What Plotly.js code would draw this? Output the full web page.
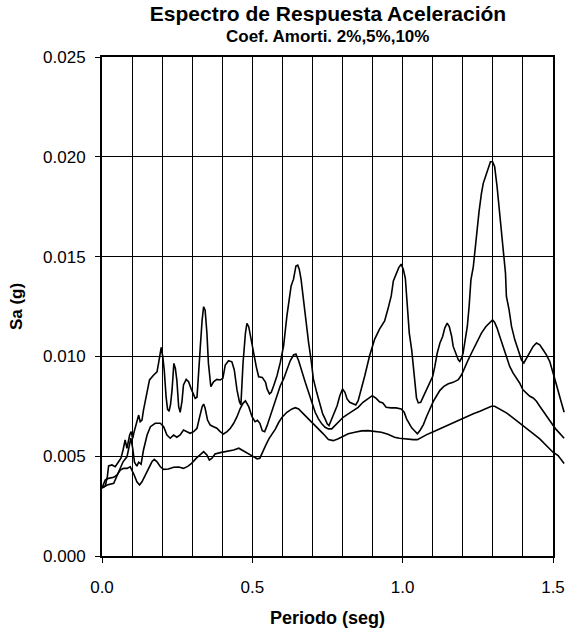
<!DOCTYPE html>
<html>
<head>
<meta charset="utf-8">
<script src="https://cdn.plot.ly/plotly-3.0.1.min.js"></script>
<style>html,body{margin:0;padding:0;background:#fff;}#chart{width:567px;height:635px;}</style>
</head>
<body>
<div id="chart"></div>
<script>
// ---- Data ----
const chartTitle = 'Espectro de Respuesta Aceleración';
const chartSubtitle = 'Coef. Amorti. 2%,5%,10%';
const xTitle = 'Periodo (seg)';
const yTitle = 'Sa (g)';
const seriesNames = ['Amort. 2%', 'Amort. 5%', 'Amort. 10%'];

const periodo2 = [0,0.011,0.018,0.022,0.033,0.044,0.055,0.063,0.07,0.077,0.083,0.092,0.097,0.102,0.107,0.114,0.122,0.127,0.133,0.138,0.15,0.158,0.172,0.183,0.188,0.197,0.202,0.207,0.213,0.218,0.223,0.228,0.233,0.239,0.244,0.249,0.255,0.26,0.266,0.271,0.28,0.288,0.296,0.305,0.31,0.316,0.321,0.327,0.333,0.338,0.343,0.349,0.354,0.362,0.371,0.382,0.393,0.402,0.41,0.421,0.432,0.44,0.449,0.457,0.462,0.469,0.477,0.482,0.488,0.496,0.504,0.513,0.521,0.533,0.544,0.549,0.557,0.563,0.571,0.582,0.593,0.604,0.615,0.629,0.637,0.645,0.651,0.656,0.662,0.668,0.676,0.681,0.687,0.695,0.703,0.714,0.725,0.734,0.742,0.749,0.755,0.764,0.775,0.782,0.791,0.8,0.808,0.815,0.824,0.835,0.844,0.852,0.863,0.874,0.89,0.907,0.923,0.94,0.951,0.962,0.969,0.978,0.987,0.995,1.002,1.009,1.015,1.022,1.03,1.035,1.041,1.046,1.052,1.06,1.069,1.08,1.091,1.1,1.107,1.115,1.124,1.133,1.14,1.148,1.155,1.163,1.168,1.177,1.185,1.19,1.196,1.201,1.207,1.215,1.221,1.227,1.235,1.24,1.248,1.254,1.262,1.268,1.277,1.285,1.292,1.299,1.306,1.314,1.323,1.334,1.342,1.345,1.354,1.362,1.373,1.384,1.395,1.403,1.412,1.423,1.434,1.445,1.456,1.467,1.478,1.489,1.5,1.511,1.522,1.537];
const sa2 = [0.00341,0.00351,0.0040,0.00451,0.00456,0.00447,0.00472,0.0049,0.00531,0.00581,0.0054,0.00606,0.00623,0.0059,0.00623,0.00665,0.00706,0.00673,0.00681,0.00731,0.00815,0.00882,0.00907,0.00923,0.00965,0.01045,0.0100,0.00932,0.0080,0.00735,0.00725,0.0076,0.00832,0.00965,0.0094,0.0088,0.00748,0.0072,0.00775,0.00857,0.00885,0.00873,0.0084,0.00807,0.0079,0.00795,0.00932,0.01049,0.01182,0.01249,0.01232,0.01116,0.00965,0.00848,0.00873,0.00885,0.00882,0.0089,0.00957,0.00978,0.00973,0.00932,0.00832,0.00773,0.00757,0.00965,0.01116,0.01166,0.01149,0.01082,0.01024,0.00949,0.00898,0.00895,0.0087,0.00837,0.00812,0.0082,0.00853,0.00903,0.0097,0.01053,0.01203,0.01353,0.01387,0.01453,0.01457,0.01437,0.01387,0.01303,0.01203,0.01153,0.0107,0.00987,0.00887,0.0082,0.00753,0.00712,0.00687,0.00662,0.00653,0.00687,0.0072,0.00753,0.00803,0.00837,0.0082,0.00787,0.0077,0.00762,0.00757,0.00778,0.00837,0.00903,0.01003,0.01087,0.01137,0.01178,0.01237,0.01303,0.01378,0.01412,0.01445,0.01462,0.01437,0.0139,0.0125,0.01117,0.01033,0.0095,0.0085,0.00791,0.00767,0.0077,0.008,0.00833,0.00867,0.009,0.0095,0.01017,0.01067,0.011,0.01142,0.01167,0.0115,0.011,0.0105,0.01017,0.00983,0.00975,0.00992,0.01017,0.01083,0.0115,0.0125,0.01383,0.0145,0.01533,0.0165,0.01725,0.01817,0.01867,0.01908,0.0195,0.01975,0.01975,0.0195,0.0185,0.01717,0.0155,0.01417,0.013,0.01233,0.0115,0.01083,0.01033,0.00983,0.00967,0.00992,0.01025,0.0105,0.01067,0.01058,0.01033,0.01008,0.00975,0.0091,0.0086,0.008,0.0072];

const periodo5 = [0,0.017,0.039,0.055,0.061,0.07,0.083,0.092,0.096,0.102,0.108,0.116,0.122,0.13,0.138,0.15,0.161,0.177,0.194,0.205,0.216,0.227,0.238,0.249,0.26,0.271,0.282,0.293,0.305,0.316,0.325,0.333,0.338,0.343,0.351,0.36,0.371,0.382,0.393,0.404,0.416,0.427,0.438,0.449,0.46,0.469,0.477,0.488,0.499,0.509,0.517,0.525,0.533,0.541,0.549,0.56,0.571,0.582,0.593,0.604,0.615,0.626,0.637,0.645,0.654,0.665,0.676,0.687,0.698,0.709,0.72,0.731,0.742,0.753,0.764,0.775,0.786,0.802,0.819,0.835,0.852,0.868,0.885,0.899,0.912,0.923,0.934,0.945,0.962,0.978,0.995,1.005,1.013,1.02,1.03,1.041,1.049,1.058,1.069,1.08,1.091,1.102,1.113,1.124,1.137,1.152,1.168,1.185,1.196,1.207,1.218,1.229,1.24,1.251,1.262,1.277,1.29,1.299,1.306,1.314,1.323,1.334,1.345,1.356,1.367,1.378,1.389,1.4,1.412,1.423,1.434,1.445,1.456,1.467,1.478,1.489,1.5,1.511,1.522,1.537];
const sa5 = [0.00341,0.00356,0.00364,0.00422,0.00439,0.00472,0.00497,0.00556,0.0059,0.0054,0.0047,0.0045,0.0047,0.0046,0.00531,0.00606,0.00648,0.00665,0.00665,0.00648,0.00606,0.0059,0.00606,0.00595,0.00606,0.00631,0.00623,0.00615,0.00623,0.0064,0.00698,0.00748,0.00761,0.0074,0.00681,0.00656,0.00648,0.0064,0.00623,0.00611,0.00623,0.0064,0.00665,0.00698,0.0074,0.00765,0.00777,0.00748,0.00698,0.00673,0.0068,0.00665,0.00628,0.00623,0.00653,0.00703,0.00753,0.00795,0.00853,0.00887,0.00937,0.00978,0.01007,0.01012,0.00978,0.0092,0.0087,0.0082,0.0077,0.0072,0.00687,0.00662,0.00645,0.00637,0.00637,0.00653,0.0067,0.00695,0.00712,0.00728,0.00745,0.0077,0.0079,0.00803,0.0079,0.00773,0.00767,0.00745,0.00742,0.00742,0.00737,0.0072,0.00687,0.00665,0.00642,0.00625,0.00612,0.0063,0.00658,0.007,0.00742,0.00775,0.00803,0.0083,0.0085,0.00863,0.0087,0.00883,0.00908,0.0095,0.00983,0.01017,0.0105,0.01083,0.01117,0.0115,0.0117,0.01183,0.0117,0.01142,0.011,0.0105,0.01,0.0095,0.00917,0.00892,0.00867,0.00833,0.00813,0.008,0.00792,0.00775,0.0075,0.00725,0.007,0.00675,0.00655,0.00633,0.00617,0.0059];

const periodo10 = [0,0.011,0.022,0.039,0.05,0.061,0.072,0.083,0.094,0.1,0.107,0.116,0.125,0.133,0.144,0.155,0.166,0.174,0.183,0.194,0.205,0.221,0.238,0.255,0.271,0.285,0.298,0.313,0.327,0.338,0.349,0.357,0.365,0.376,0.393,0.416,0.438,0.455,0.465,0.479,0.493,0.505,0.516,0.525,0.533,0.544,0.555,0.566,0.577,0.588,0.599,0.615,0.632,0.643,0.654,0.67,0.687,0.703,0.72,0.736,0.753,0.769,0.786,0.802,0.819,0.841,0.863,0.885,0.907,0.929,0.951,0.973,0.989,1.005,1.02,1.035,1.049,1.063,1.08,1.102,1.124,1.146,1.168,1.19,1.212,1.235,1.257,1.279,1.295,1.306,1.323,1.345,1.367,1.389,1.412,1.434,1.456,1.478,1.5,1.517,1.537];
const sa10 = [0.00341,0.00381,0.00389,0.00394,0.00406,0.00431,0.00439,0.00439,0.00447,0.00431,0.00406,0.00372,0.00356,0.00372,0.00406,0.00439,0.00472,0.00484,0.00472,0.00447,0.00434,0.00436,0.00445,0.00446,0.00439,0.00449,0.00464,0.00489,0.00511,0.00523,0.00506,0.00481,0.00489,0.00511,0.00518,0.00523,0.00531,0.0054,0.00531,0.00518,0.00506,0.00495,0.00487,0.0049,0.0052,0.00553,0.00587,0.00612,0.00637,0.0067,0.00695,0.0072,0.00737,0.00743,0.00737,0.00712,0.00687,0.00662,0.00637,0.00612,0.00583,0.00578,0.00587,0.006,0.00612,0.0062,0.00627,0.00628,0.00625,0.0062,0.0061,0.00595,0.0059,0.00587,0.00587,0.00583,0.00583,0.00595,0.00608,0.00623,0.00638,0.00653,0.00667,0.00683,0.007,0.00713,0.00725,0.00738,0.0075,0.0075,0.00737,0.00717,0.00692,0.00667,0.00642,0.00613,0.00587,0.00553,0.0052,0.00503,0.00464];

const xTickVals = [0, 0.5, 1.0, 1.5];
const xTickText = ['0.0', '0.5', '1.0', '1.5'];
const yTickVals = [0, 0.005, 0.010, 0.015, 0.020, 0.025];
const yTickText = ['0.000', '0.005', '0.010', '0.015', '0.020', '0.025'];

// ---- Layout geometry ----
const W = 567, H = 635;
const L = 102, R = 0, T = 57, B = 79;
const frameRight = 553;               // right edge of the framed plot area
const plotW = W - L - R;
const frameFrac = (frameRight - L) / plotW;
const xMax = 1.5;
const xMax2 = xMax / frameFrac;       // curves continue slightly past the frame

const FONT = 'Liberation Sans, Arial, Helvetica, sans-serif';

const lineStyle = {color: '#000000', width: 1.6};
const traces = [
  {x: periodo2, y: sa2, name: seriesNames[0]},
  {x: periodo5, y: sa5, name: seriesNames[1]},
  {x: periodo10, y: sa10, name: seriesNames[2]}
].map(s => Object.assign(s, {type: 'scatter', mode: 'lines', line: lineStyle, xaxis: 'x2', yaxis: 'y2', hoverinfo: 'x+y'}));

// empty trace so the framed (gridded) subplot is drawn
traces.unshift({type: 'scatter', mode: 'lines', x: [], y: [], xaxis: 'x', yaxis: 'y', hoverinfo: 'skip', showlegend: false});

const layout = {
  width: W, height: H,
  margin: {l: L, r: R, t: T, b: B, pad: 0},
  paper_bgcolor: '#ffffff',
  plot_bgcolor: 'rgba(0,0,0,0)',
  showlegend: false,
  font: {family: FONT, color: '#000000'},
  title: {
    text: '<b>' + chartTitle + '</b>',
    font: {family: FONT, size: 21, color: '#000000'},
    xref: 'container', x: 328 / W, xanchor: 'center',
    yref: 'container', y: 1 - 14 / H, yanchor: 'middle'
  },
  annotations: [{
    text: '<b>' + chartSubtitle + '</b>',
    font: {family: FONT, size: 17, color: '#000000'},
    xref: 'paper', yref: 'paper',
    x: frameFrac / 2, y: 1 + (T - 36) / (H - T - B),
    xanchor: 'center', yanchor: 'middle', showarrow: false
  }],
  xaxis: {
    domain: [0, frameFrac], anchor: 'y',
    range: [0, xMax], autorange: false,
    tickmode: 'array', tickvals: xTickVals, ticktext: xTickText,
    ticks: 'outside', ticklen: 5, tickwidth: 1, tickcolor: '#000',
    ticklabelstandoff: 10,
    tickfont: {family: FONT, size: 17, color: '#000'},
    showgrid: true, gridcolor: '#000000', gridwidth: 1,
    minor: {dtick: 0.1, tick0: 0, showgrid: true, gridcolor: '#000000', gridwidth: 1, ticks: ''},
    zeroline: false,
    showline: true, mirror: true, linecolor: '#000000', linewidth: 2,
    title: {text: '<b>' + xTitle + '</b>', font: {family: FONT, size: 18, color: '#000'}, standoff: 15}
  },
  yaxis: {
    domain: [0, 1], anchor: 'x',
    range: [0, 0.025], autorange: false,
    tickmode: 'array', tickvals: yTickVals, ticktext: yTickText,
    ticks: 'outside', ticklen: 5, tickwidth: 1, tickcolor: '#000',
    ticklabelstandoff: 6,
    tickfont: {family: FONT, size: 17, color: '#000'},
    showgrid: true, gridcolor: '#000000', gridwidth: 1,
    zeroline: false,
    showline: true, mirror: true, linecolor: '#000000', linewidth: 2,
    title: {text: '<b>' + yTitle + '</b>', font: {family: FONT, size: 17, color: '#000'}, standoff: 16}
  },
  xaxis2: {domain: [0, 1], anchor: 'y2', range: [0, xMax2], autorange: false, visible: false, showgrid: false, zeroline: false},
  yaxis2: {domain: [0, 1], anchor: 'x2', range: [0, 0.025], autorange: false, visible: false, showgrid: false, zeroline: false}
};

Plotly.newPlot('chart', traces, layout, {staticPlot: true, displayModeBar: false});
</script>
</body>
</html>
